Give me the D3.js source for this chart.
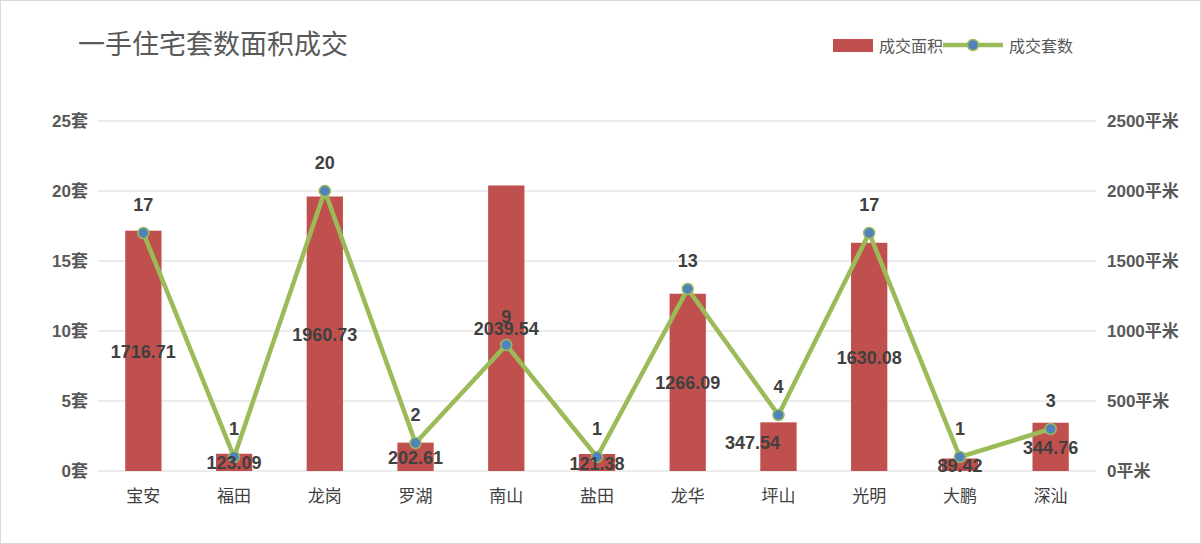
<!DOCTYPE html>
<html><head><meta charset="utf-8">
<script src="https://cdn.jsdelivr.net/npm/d3@7/dist/d3.min.js"></script>
<style>body{margin:0;background:#fff}</style></head>
<body><svg id="c" width="1201" height="544"></svg>
<script>
const categories=["宝安","福田","龙岗","罗湖","南山","盐田","龙华","坪山","光明","大鹏","深汕"];
const areaValues=[1716.71,123.09,1960.73,202.61,2039.54,121.38,1266.09,347.54,1630.08,89.42,344.76];
const countValues=[17,1,20,2,9,1,13,4,17,1,3];
const leftTicks=[0,5,10,15,20,25];
const rightTicks=[0,500,1000,1500,2000,2500];
const svg=d3.select("#c");
const F="'Liberation Sans','Noto Sans CJK SC',sans-serif";
svg.append("rect").attr("x",0.5).attr("y",0.5).attr("width",1200).attr("height",543).attr("fill","#fff").attr("stroke","#d9d9d9");
const x=d3.scaleBand().domain(categories).range([98,1096]).paddingInner(0.6).paddingOuter(0.3);
const yL=d3.scaleLinear().domain([0,25]).range([471,121]);
const yR=d3.scaleLinear().domain([0,2500]).range([471,121]);
svg.append("g").selectAll("line").data(leftTicks).join("line").attr("x1",98).attr("x2",1096)
 .attr("y1",d=>yL(d)).attr("y2",d=>yL(d)).attr("stroke","#d9d9d9");
const tstyle=s=>s.attr("font-family",F).attr("font-size",17).attr("fill","#595959").attr("font-weight","bold");
svg.append("g").selectAll("text").data(leftTicks).join("text").attr("x",88).attr("y",d=>yL(d)+6).attr("text-anchor","end").text(d=>d+"套").call(tstyle);
svg.append("g").selectAll("text").data(rightTicks).join("text").attr("x",1107).attr("y",d=>yR(d)+6).text(d=>d+"平米").call(tstyle);
svg.append("g").selectAll("text").data(categories).join("text").attr("x",d=>x(d)+x.bandwidth()/2).attr("y",502).attr("text-anchor","middle").text(d=>d)
 .attr("font-family",F).attr("font-size",17).attr("fill","#404040");
svg.append("g").selectAll("rect").data(areaValues).join("rect").attr("x",(d,i)=>x(categories[i])).attr("width",x.bandwidth())
 .attr("y",d=>yR(d)).attr("height",d=>471-yR(d)).attr("fill","#C0504D");
const cx=i=>x(categories[i])+x.bandwidth()/2;
svg.append("path").datum(countValues).attr("d",d3.line().x((d,i)=>cx(i)).y(d=>yL(d))).attr("fill","none").attr("stroke","#9BBB59").attr("stroke-width",4.5);
svg.append("g").selectAll("circle").data(countValues).join("circle").attr("cx",(d,i)=>cx(i)).attr("cy",d=>yL(d)).attr("r",5.5)
 .attr("fill","#4F81BD").attr("stroke","#9BBB59").attr("stroke-width",1.5);
const lstyle=s=>s.attr("font-family",F).attr("font-size",18).attr("fill","#404040").attr("font-weight","bold").attr("text-anchor","middle");
svg.append("g").selectAll("text").data(areaValues).join("text").attr("x",(d,i)=>cx(i)-(i===7?26:0)).attr("y",(d,i)=>(yR(d)+471)/2+7-(i===7?5:0)).text(d=>d.toFixed(2)).call(lstyle);
svg.append("g").selectAll("text").data(countValues).join("text").attr("x",(d,i)=>cx(i)).attr("y",d=>yL(d)-22).text(d=>d).call(lstyle);
svg.append("text").attr("x",78).attr("y",54).text("一手住宅套数面积成交").attr("font-family","'Noto Sans CJK SC',sans-serif").attr("font-size",27).attr("fill","#595959");
svg.append("rect").attr("x",833).attr("y",39).attr("width",40).attr("height",13).attr("fill","#C0504D");
svg.append("text").attr("x",879).attr("y",52).text("成交面积").attr("font-family",F).attr("font-size",16).attr("fill","#595959");
svg.append("line").attr("x1",943).attr("x2",1003).attr("y1",45).attr("y2",45).attr("stroke","#9BBB59").attr("stroke-width",4.5);
svg.append("circle").attr("cx",973).attr("cy",45).attr("r",5.5).attr("fill","#4F81BD").attr("stroke","#9BBB59").attr("stroke-width",1.5);
svg.append("text").attr("x",1009).attr("y",52).text("成交套数").attr("font-family",F).attr("font-size",16).attr("fill","#595959");
</script></body></html>
